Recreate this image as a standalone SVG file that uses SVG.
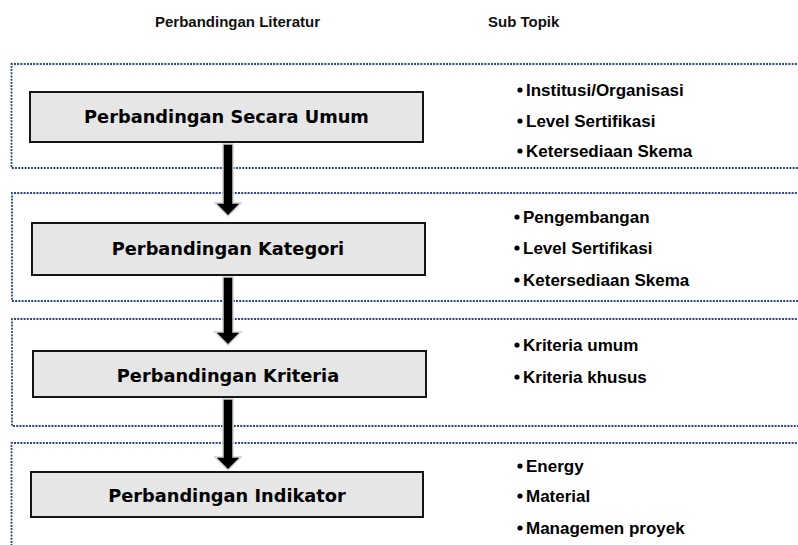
<svg xmlns="http://www.w3.org/2000/svg" width="798" height="545" viewBox="0 0 798 545">
<style>
.title{font-family:"Liberation Sans",Arial,sans-serif;font-weight:bold;font-size:15px;fill:#111}
.node rect{fill:#e6e6e6;stroke:#151515;stroke-width:2}
.node text{font-family:"DejaVu Sans",Verdana,sans-serif;font-weight:bold;font-size:17.8px;fill:#000;text-anchor:middle}
.grp{fill:none;stroke:#2b4a88;stroke-width:1.8;stroke-dasharray:2 1.2}
.item{font-family:"Liberation Sans",Arial,sans-serif;font-weight:bold;font-size:17px;fill:#000}
.dot{fill:#000}
.arrow{fill:#000;stroke:#d0d0d0;stroke-width:1.5}
</style>
<rect width="798" height="545" fill="#fff"/>
<text class="title" x="155" y="27">Perbandingan Literatur</text>
<text class="title" x="488" y="27">Sub Topik</text>

<g id="groups">
<path class="grp" d="M800,64 H11.5 V168 H800"/>
<path class="grp" d="M800,193 H12 V301 H800"/>
<path class="grp" d="M800,319 H12 V426 H800"/>
<path class="grp" d="M800,443 H11.5 V547"/>
</g>

<g id="connectors">
<path class="arrow" d="M223,144 H233 V203 H241 L228,216 L215,203 H223 Z"/>
<path class="arrow" d="M223,277 H233 V332 H241 L228,345 L215,332 H223 Z"/>
<path class="arrow" d="M223,399 H233 V457 H241 L228,470 L215,457 H223 Z"/>
</g>

<g id="node1" class="node">
<rect x="30" y="92" width="393" height="50"/>
<text x="226.5" y="123">Perbandingan Secara Umum</text>
</g>
<g id="node2" class="node">
<rect x="32" y="223" width="393" height="52"/>
<text x="228" y="255">Perbandingan Kategori</text>
</g>
<g id="node3" class="node">
<rect x="33" y="351" width="393" height="46"/>
<text x="228" y="382">Perbandingan Kriteria</text>
</g>
<g id="node4" class="node">
<rect x="31" y="472" width="392" height="45"/>
<text x="227" y="502">Perbandingan Indikator</text>
</g>

<g id="subtopics1">
<circle class="dot" cx="520" cy="90" r="2.6"/><text class="item" x="526" y="96">Institusi/Organisasi</text>
<circle class="dot" cx="520" cy="121" r="2.6"/><text class="item" x="526" y="127">Level Sertifikasi</text>
<circle class="dot" cx="520" cy="151" r="2.6"/><text class="item" x="526" y="157">Ketersediaan Skema</text>
</g>
<g id="subtopics2">
<circle class="dot" cx="517" cy="217" r="2.6"/><text class="item" x="523" y="223">Pengembangan</text>
<circle class="dot" cx="517" cy="248" r="2.6"/><text class="item" x="523" y="254">Level Sertifikasi</text>
<circle class="dot" cx="517" cy="280" r="2.6"/><text class="item" x="523" y="286">Ketersediaan Skema</text>
</g>
<g id="subtopics3">
<circle class="dot" cx="517" cy="345" r="2.6"/><text class="item" x="523" y="351">Kriteria umum</text>
<circle class="dot" cx="517" cy="377" r="2.6"/><text class="item" x="523" y="383">Kriteria khusus</text>
</g>
<g id="subtopics4">
<circle class="dot" cx="520" cy="466" r="2.6"/><text class="item" x="526" y="472">Energy</text>
<circle class="dot" cx="520" cy="496" r="2.6"/><text class="item" x="526" y="502">Material</text>
<circle class="dot" cx="520" cy="528" r="2.6"/><text class="item" x="526" y="534">Managemen proyek</text>
</g>
</svg>
